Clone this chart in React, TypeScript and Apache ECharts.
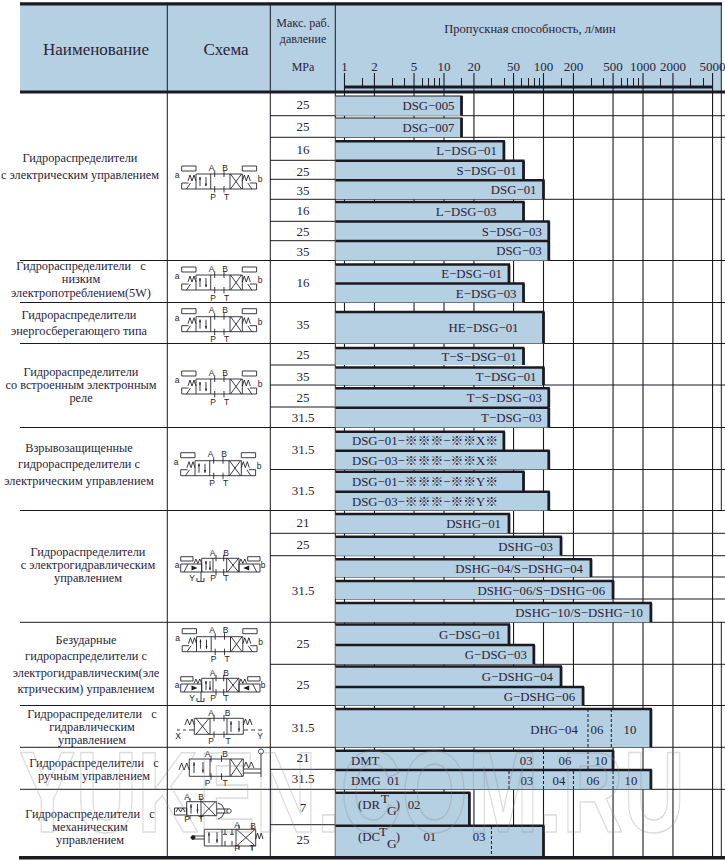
import React, { useEffect, useRef } from "react";
import * as echarts from "echarts";

// ---- data ----
const majorTicks = [1, 2, 5, 10, 20, 50, 100, 200, 500, 1000, 2000, 5000];
const minorTicks = [1.5, 3, 4, 6, 7, 8, 9, 15, 30, 40, 60, 70, 80, 90, 150, 300, 400, 600, 700, 800, 900, 1500, 3000, 4000];
const D = "\u2212";
const barLabels = [
  `DSG${D}005`, `DSG${D}007`, `L${D}DSG${D}01`, `S${D}DSG${D}01`, `DSG${D}01`, `L${D}DSG${D}03`, `S${D}DSG${D}03`, `DSG${D}03`,
  `E${D}DSG${D}01`, `E${D}DSG${D}03`, `HE${D}DSG${D}01`,
  `T${D}S${D}DSG${D}01`, `T${D}DSG${D}01`, `T${D}S${D}DSG${D}03`, `T${D}DSG${D}03`,
  `DSG${D}01${D}※※※${D}※※X※`, `DSG${D}03${D}※※※${D}※※X※`, `DSG${D}01${D}※※※${D}※※Y※`, `DSG${D}03${D}※※※${D}※※Y※`,
  `DSHG${D}01`, `DSHG${D}03`, `DSHG${D}04/S${D}DSHG${D}04`, `DSHG${D}06/S${D}DSHG${D}06`, `DSHG${D}10/S${D}DSHG${D}10`,
  `G${D}DSG${D}01`, `G${D}DSG${D}03`, `G${D}DSHG${D}04`, `G${D}DSHG${D}06`,
  `DHG${D}04`, "", "", "", "",
];
const barFlows = [15, 15, 40, 63, 100, 63, 113, 113, 45, 63, 100, 63, 100, 113, 113, 40, 113, 63, 113, 45, 150, 300, 500, 1200, 45, 80, 150, 250, 1200, 500, 1200, 18, 100];
const pressures = ["25", "25", "16", "25", "35", "16", "25", "35", "16", "35", "25", "35", "25", "31.5", "31.5", "31.5", "21", "25", "31.5", "25", "25", "31.5", "21", "31.5", "7", "25"];
const sectionNames = [
  ["Гидрораспределители", "с электрическим управлением"],
  ["Гидрораспределители   с", "низким", "электропотреблением(5W)"],
  ["Гидрораспределители", "энергосберегающего типа"],
  ["Гидрораспределители", "со встроенным электронным", "реле"],
  ["Взрывозащищенные", "гидрораспределители с", "электрическим управлением"],
  ["Гидрораспределители", "с электрогидравлическим", "управлением"],
  ["Безударные", "гидрораспределители с", "электрогидравлическим(эле", "ктрическим) управлением"],
  ["Гидрораспределители   с", "гидравлическим", "управлением"],
  ["Гидрораспределители   с", "ручным управлением"],
  ["Гидрораспределители   с", "механическим", "управлением"],
];

// ---- layout ----
const W = 725, H = 861;
const FONT = '"Liberation Serif", "Noto Sans CJK SC", serif';
const INK = "#1b1a22";
const TXT = "#2a2438";
const BLUE = "#b5cfe3";
const barTops = [96, 118, 141.3, 160.7, 180.3, 202, 221.5, 241, 264.5, 283.5, 312, 348, 367.5, 388.3, 407.7, 431.7, 450.7, 471.7, 491.7, 514, 536.7, 559.3, 581, 603, 624.5, 645, 666.5, 687, 709, 750.7, 770, 792.7, 825.7];
const barBottoms = [115.7, 137.3, 160, 179.3, 199.3, 221, 240.7, 260.5, 283, 302.5, 343.5, 365, 385, 407, 427.5, 450, 469.5, 491, 510.5, 533.3, 555.7, 577, 599, 622.3, 644, 664.3, 687, 705.5, 747.3, 769.3, 789.3, 825, 857];
const labelGaps = [7, 7, 7, 7, 7, 27, 7, 7, 7, 7, 25, 7, 7, 7, 7, -1, -1, -1, -1, 8, 8, 8, 8, 8, 8, 7, 8, 8, 73, 0, 0, 0, 0];
const leftLabelFlow = 1.19;
const pressureY = [104, 126, 149, 171, 190, 210, 231, 251, 282, 324, 354, 376, 397, 417, 449.5, 490.5, 522, 544, 590, 643, 684.6, 727, 757.7, 778, 807, 839];
const sectionY = [
  [158, 175], [266, 279, 293], [315, 331], [372, 385, 398], [448, 464, 481], [552, 565, 578], [640, 656, 673, 689], [714, 727, 740], [763, 776], [814, 827, 840],
];
const sectionX = [80, 81, 79, 81, 79, 88, 86, 92, 94, 90];
const sectionLines = [260.5, 302.5, 343.5, 427.5, 510.5, 622.3, 705.5, 747.3, 789.3];
const pressureLines = [115.7, 137.3, 160.3, 179.3, 199.3, 221.3, 240.7, 260.5, 302.5, 343.5, 365, 385, 407, 427.5, 469.5, 510.5, 533.3, 555.7, 622.3, 664.3, 705.5, 747.3, 769.3, 789.3, 824.7];
const fullLines = [115.7, 137.3, 199.3, 260.5, 302.5, 343.5, 385, 427.5, 469.5, 510.5, 533.3, 555.7, 577, 599, 622.3, 664.3, 705.5, 747.3, 789.3];
const dashes: [number, number, number][] = [
  [280, 709, 747], [480, 709, 747], [100, 751, 769], [280, 751, 769],
  [45, 771, 789], [100, 771, 789], [200, 771, 789], [500, 771, 789], [30, 826, 857],
];
// text, flow position, y, align
const notes: [string, number, number, string][] = [
  ["06", 345, 730, "center"], ["10", 740, 730, "center"],
  ["DMT", 1.16, 760.7, "left"], ["03", 67, 760.7, "center"], ["06", 164, 760.7, "center"], ["10", 378, 760.7, "center"],
  ["DMG  01", 1.16, 780.7, "left"], ["03", 68, 780.7, "center"], ["04", 143, 780.7, "center"], ["06", 314, 780.7, "center"], ["10", 757, 780.7, "center"],
  ["(DR", 1.37, 805, "left"], ["T", 2.55, 798, "center"], ["G", 3, 810, "center"], [")", 3.45, 805, "center"], ["02", 5, 805, "center"],
  ["(DC", 1.37, 837, "left"], ["T", 2.45, 831, "center"], ["G", 3, 843, "center"], [")", 3.45, 837, "center"], ["01", 7.2, 837, "center"], ["03", 22.5, 837, "center"],
];

// ---- schematic symbols ----
const ln = (...p: number[]) => {
  let s = "";
  for (let i = 0; i < p.length; i += 2) s += (i ? "L" : "M") + p[i] + " " + p[i + 1];
  return s;
};
const box = (x: number, y: number, x2: number, y2: number) => ln(x, y, x2, y, x2, y2, x, y2, x, y);
const tri = (x: number, y: number, dir: number) => ln(x - 1, y + 1.6 * dir, x + 1, y + 1.6 * dir, x, y - 1.6 * dir, x - 1, y + 1.6 * dir) + "Z";
const triH = (x: number, y: number, dir: number) => ln(x - 3 * dir, y - 2.5, x - 3 * dir, y + 2.5, x + 3 * dir, y, x - 3 * dir, y - 2.5) + "Z";
const spring = (x: number, y: number, x2: number, y2: number) => ln(x, y2, x + (x2 - x) * 0.25, y, x + (x2 - x) * 0.5, y2, x + (x2 - x) * 0.75, y, x2, y2);
const circle = (cx: number, cy: number, r: number) => {
  let s = "";
  for (let i = 0; i <= 16; i++) {
    const a = (i / 16) * Math.PI * 2;
    s += (i ? "L" : "M") + (cx + r * Math.cos(a)).toFixed(2) + " " + (cy + r * Math.sin(a)).toFixed(2);
  }
  return s;
};
const ports = (xa: number, xb: number, top: number, bot: number, c = 3) =>
  ln(xa, top - 3.5, xa, top + c) + ln(xb, top - 3.5, xb, top + c) + ln(xa, bot + 3.5, xa, bot - c) + ln(xb, bot + 3.5, xb, bot - c);

const solenoidA = () => {
  const m = (x: number) => 98.3 - x;
  const side = (f: (x: number) => number) =>
    box(f(11.7), 11, f(26), 16) + ln(f(26), 34, f(11.7), 34, f(11.7), 28, f(18.5), 28) + ln(f(16.5), 34, f(20.5), 28) + spring(f(18), 20, f(26), 26);
  return (
    side((x) => x) + side(m) + box(26, 19, 72.3, 34) + ln(40.7, 19, 40.7, 34) + ln(60, 19, 60, 34) +
    ln(30, 22, 30, 31) + ln(36, 22, 36, 31) + ln(60.5, 19, 71.5, 34) + ln(71.5, 19, 60.5, 34) + ports(44.7, 54, 19, 34)
  );
};
const solenoidB = () => {
  const m = (x: number) => 100.7 - x;
  const side = (f: (x: number) => number) =>
    box(f(10.7), 11.7, f(23), 16) + box(f(10.7), 19, f(31.7), 27) + ln(f(14), 27, f(18), 19) + spring(f(24), 14, f(31.7), 18.5);
  return (
    side((x) => x) + side(m) + box(31.7, 13.3, 69, 27) + ln(43, 13.3, 43, 27) + ln(56.7, 13.3, 56.7, 27) + ln(36, 16, 36, 25) + ln(40, 16, 40, 25) +
    ln(57.5, 13.3, 68.5, 27) + ln(68.5, 13.3, 57.5, 27) + ports(46, 53.7, 13.3, 27, 3) + ln(31, 27, 31, 36) + ln(27, 36.5, 34, 36.5) + ln(27, 33, 27, 36.5) + ln(34, 33, 34, 36.5)
  );
};
const hydraulicC = () =>
  box(24.3, 13.3, 73.3, 29.3) + ln(40, 13.3, 40, 29.3) + ln(57, 13.3, 57, 29.3) + ln(26, 13.3, 39, 29.3) + ln(39, 13.3, 26, 29.3) +
  ln(61, 16, 61, 27) + ln(69, 16, 69, 27) + ports(44, 54, 13.3, 29.3) + spring(15, 14, 24.3, 20) + spring(73.3, 14, 82, 20) +
  ln(7, 25, 10, 25) + ln(13, 25, 16, 25) + ln(19, 25, 24, 25) + ln(74, 25, 78, 25) + ln(81, 25, 85, 25) + ln(88, 25, 92, 25);
const manualD = () =>
  box(19.3, 54, 73.3, 71.3) + ln(40, 54, 40, 71.3) + ln(60, 54, 60, 71.3) + ln(24, 57, 24, 68) + ln(33, 57, 33, 68) + ln(60.5, 54, 72.5, 71.3) + ln(72.5, 54, 60.5, 71.3) +
  ports(41, 51.5, 54, 71.3) + spring(9, 58, 19.3, 65) + spring(73.3, 57, 84, 63) + ln(73.3, 64, 91, 64) + ln(73.3, 68, 91, 68) + ln(91, 49, 91, 72) + circle(91, 46.5, 2.5);
const camE = () =>
  box(16.7, 96.7, 46.7, 110.7) + ln(31, 96.7, 31, 110.7) + ln(21, 99, 21, 108.5) + ln(27.5, 99, 27.5, 108.5) + ln(32, 96.7, 45.7, 110.7) + ln(45.7, 96.7, 32, 110.7) +
  ports(20, 31, 96.7, 110.7, 0) + box(4.5, 103, 16.7, 110) + spring(6, 103, 15, 107) + ln(46.7, 104, 58, 104) + ln(46.7, 108, 58, 108) + circle(59, 106, 2.2) + ln(48, 98, 52, 100, 55, 106, 52, 112, 48, 114);
const cross = (x: number, y: number) => ln(x, y, x, y + 5) + ln(x - 2, y + 5, x + 2, y + 5);
const leverF = () =>
  box(34.3, 124.3, 85.7, 141) + ln(52, 124.3, 52, 141) + ln(66, 124.3, 66, 141) + ln(39, 127, 39, 138) + ln(47, 127, 47, 138) + ln(66.5, 124.3, 85.2, 141) + ln(85.2, 124.3, 66.5, 141) +
  cross(55, 124.3) + cross(62, 124.3) + ln(55, 141, 55, 136) + ln(62, 141, 62, 136) + ln(69, 120, 69, 124.3) + ln(82, 120, 82, 124.3) + ln(69, 141, 69, 145) + ln(82, 141, 82, 145) +
  ln(24, 131, 34.3, 131) + ln(24, 134, 34.3, 134) + circle(23, 132.5, 2) + spring(85.7, 128, 93, 134);

const ARROWS: Record<string, string> = {
  A: tri(30, 23, 1) + tri(36, 30, -1),
  B: tri(36, 17, 1) + tri(40, 24, -1) + triH(24.5, 23, 1) + triH(76.2, 23, -1),
  C: tri(61, 18, 1) + tri(69, 25, -1),
  D: tri(24, 59, 1) + tri(33, 66, -1),
  E: tri(21, 101, 1) + tri(27.5, 106, -1),
  F: tri(39, 129, 1) + tri(47, 136, -1) + circle(23, 132.5, 2),
};
const LINES: Record<string, string> = { A: solenoidA(), B: solenoidB(), C: hydraulicC(), D: manualD(), E: camE(), F: leverF() };
Object.keys(LINES).forEach((k) => {
  echarts.graphic.registerShape("valveLine" + k, echarts.graphic.extendPath(LINES[k], {}));
  echarts.graphic.registerShape("valveFill" + k, echarts.graphic.extendPath(ARROWS[k], {}));
});
const LETTERS: Record<string, [string, number, number][]> = {
  A: [["a", 7, 20], ["b", 90, 24], ["A", 41.5, 12.5], ["B", 55, 12.5], ["P", 43, 41.5], ["T", 56.5, 41.5]],
  B: [["a", 7, 19.5], ["b", 93, 19.5], ["A", 42.7, 8], ["B", 56, 8], ["P", 43, 33], ["T", 56, 33], ["Y", 22, 33]],
  C: [["A", 41, 8], ["B", 57.7, 8], ["P", 41, 35.5], ["T", 58, 35.5], ["X", 8, 31], ["Y", 90, 31]],
  D: [["A", 37.5, 49], ["B", 55, 49], ["P", 37.5, 78], ["T", 55, 78]],
  E: [["A", 17, 92], ["B", 31, 92], ["P", 17, 114], ["T", 31, 114]],
  F: [["A", 67, 120], ["B", 83, 121], ["P", 67, 143], ["T", 82, 143]],
};
const placements: [string, number, number][] = [
  ["A", 170, 155], ["A", 170, 256], ["A", 170, 297.7], ["A", 170, 360], ["A", 169, 441.7], ["B", 170, 545], ["A", 170.5, 617.7], ["B", 170, 665], ["C", 170, 705], ["D", 170, 705], ["E", 170, 705], ["F", 170, 705],
];

// ---- helpers for graphic ----
const T = (text: string, x: number, y: number, fontSize: number, extra: any = {}) => ({
  type: "text", x, y, silent: true, z: extra.z ?? 5, scaleX: extra.scaleX ?? 1, scaleY: extra.scaleY ?? 1,
  style: {
    text, fill: extra.fill ?? TXT, fontSize, fontFamily: extra.family ?? FONT, fontWeight: extra.weight ?? "normal",
    align: extra.align ?? "center", verticalAlign: "middle", textAlign: extra.align ?? "center", textVerticalAlign: "middle",
    ...(extra.stroke ? { stroke: extra.stroke, lineWidth: extra.lineWidth ?? 1 } : {}),
  },
});
const HL = (x1: number, x2: number, y: number, lw = 1, z = 1) => ({
  type: "line", silent: true, z, shape: { x1, y1: y, x2, y2: y }, style: { stroke: INK, lineWidth: lw },
});
const VL = (x: number, y1: number, y2: number, lw = 1, z = 3) => ({
  type: "line", silent: true, z, shape: { x1: x, y1, x2: x, y2 }, style: { stroke: INK, lineWidth: lw },
});

const buildGraphic = () => {
  const els: any[] = [];
  els.push({ type: "rect", silent: true, z: 0, shape: { x: 20, y: 4, width: 701, height: 87 }, style: { fill: BLUE } });
  sectionLines.forEach((y) => els.push(HL(20, 270, y)));
  pressureLines.forEach((y) => els.push(HL(270, 335, y)));
  fullLines.forEach((y) => els.push(HL(335, W, y)));
  els.push(VL(167.3, 4, 857), VL(270.3, 4, 857), VL(335.3, 4, 857));
  els.push(VL(721.3, 92, 511, 1, 1), VL(721.3, 622, 857, 1, 1), VL(721.3, 4, 92, 1, 1));
  els.push(HL(20, 722, 3.8, 3.2, 6), HL(20, W, 92, 3, 6), HL(19, W, 857.7, 3.6, 20));
  els.push(T("Наименование", 96, 49, 17), T("Схема", 226, 49, 17));
  els.push(T("Макс. раб.", 303, 23, 12), T("давление", 303, 39, 12), T("MPa", 303, 67, 12));
  els.push(T("Пропускная способность, л/мин", 530, 29, 12.5));
  pressures.forEach((p, i) => els.push(T(p, 303, pressureY[i], 13)));
  sectionNames.forEach((lines, i) => lines.forEach((s, j) => els.push(T(s, sectionX[i], sectionY[i][j], 12.3))));
  placements.forEach(([k, x, y]) => {
    els.push({ type: "valveLine" + k, x, y, silent: true, z: 5, style: { fill: "none", stroke: INK, lineWidth: 0.85 } });
    els.push({ type: "valveFill" + k, x, y, silent: true, z: 5, style: { fill: INK, stroke: "none" } });
    LETTERS[k].forEach(([s, dx, dy]) => els.push(T(s, x + dx, y + dy, 8.5, { family: '"Liberation Sans", sans-serif', fill: "#26242c" })));
  });
  els.push(T("YUKEN.COM.RU", 352, 792, 85, { family: '"Liberation Sans", sans-serif', weight: "bold", scaleY: 1.36, fill: "rgba(255,255,255,0)", stroke: "rgba(140,140,140,0.3)", lineWidth: 1.2, z: 30 }));
  return els;
};

const X0 = 0.803;
const X1 = 6668;
const textEl = (text: string, x: number, y: number, align: string, size = 12.8) => ({
  type: "text", x, y, silent: true,
  style: { text, fill: TXT, fontSize: size, fontFamily: FONT, align, verticalAlign: "middle", textAlign: align, textVerticalAlign: "middle" },
});

export default function App() {
  const ref = useRef<HTMLDivElement>(null);
  useEffect(() => {
    document.body.style.margin = "0";
    document.body.style.background = "#fff";
    const chart = echarts.init(ref.current!, undefined, { renderer: "svg" });
    const line = (a: number[], b: number[], lw: number, dash?: number[]) => ({
      type: "line", silent: true,
      shape: { x1: a[0], y1: a[1], x2: b[0], y2: b[1] },
      style: { stroke: INK, lineWidth: lw, lineDash: dash },
    });
    chart.setOption({
      animation: false,
      backgroundColor: "#ffffff",
      grid: { left: 335, right: 0, top: 87, bottom: 0, containLabel: false, outerBoundsMode: "none" },
      xAxis: {
        type: "log", logBase: 10, min: X0, max: X1, position: "top",
        axisLine: { show: false },
        axisTick: { show: true, customValues: minorTicks, length: 9, lineStyle: { color: INK, width: 1 } },
        axisLabel: { show: true, customValues: majorTicks, margin: 14, color: TXT, fontSize: 13, fontFamily: FONT, formatter: (v: number) => String(Math.round(v)), hideOverlap: false },
        splitLine: { show: false },
        minorTick: { show: false },
      },
      yAxis: { type: "value", inverse: true, min: 87, max: H, show: false },
      graphic: { elements: buildGraphic() },
      series: [
        {
          type: "custom", name: "grid", z: 2, silent: true, clip: false,
          data: majorTicks.map((v) => [v, 73]),
          encode: { x: 0, y: 1 },
          renderItem: (_: any, api: any) => line(api.coord([api.value(0), 73]), api.coord([api.value(0), 857]), 1.1),
        },
        {
          type: "custom", name: "scale", z: 3, silent: true, clip: false,
          data: [[1, 87]],
          encode: { x: 0, y: 1 },
          renderItem: (_: any, api: any) => line(api.coord([1, 87]), api.coord([5000, 87]), 2.8),
        },
        {
          type: "custom", name: "Пропускная способность", z: 4, silent: true, clip: false,
          data: barFlows.map((f, i) => [f, barTops[i], barBottoms[i], i]),
          encode: { x: 0, y: 1 },
          renderItem: (_: any, api: any) => {
            const i = api.value(3);
            const end = api.coord([api.value(0), api.value(1)]);
            const bot = api.coord([api.value(0), api.value(2)]);
            const start = api.coord([X0, api.value(1)]);
            const children: any[] = [
              { type: "rect", silent: true, shape: { x: start[0] + 0.5, y: end[1], width: end[0] - start[0] - 0.5, height: bot[1] - end[1] }, style: { fill: BLUE } },
              { type: "line", silent: true, shape: { x1: start[0] + 0.5, y1: end[1], x2: end[0] + 1, y2: end[1] }, style: { stroke: INK, lineWidth: i < 2 ? 1.2 : 2.4 } },
              { type: "line", silent: true, shape: { x1: end[0], y1: end[1], x2: end[0], y2: bot[1] }, style: { stroke: INK, lineWidth: 2.8 } },
            ];
            const s = barLabels[i];
            if (s) {
              const ymid = (end[1] + bot[1]) / 2 + 0.5;
              if (labelGaps[i] < 0) children.push(textEl(s, api.coord([leftLabelFlow, 100])[0], ymid, "left"));
              else children.push(textEl(s, end[0] - labelGaps[i], i === 28 ? 730 : ymid, "right"));
            }
            return { type: "group", children };
          },
        },
        {
          type: "custom", name: "dashes", z: 5, silent: true, clip: false,
          data: dashes,
          encode: { x: 0, y: 1 },
          renderItem: (_: any, api: any) => line(api.coord([api.value(0), api.value(1)]), api.coord([api.value(0), api.value(2)]), 1, [3, 2]),
        },
        {
          type: "custom", name: "notes", z: 6, silent: true, clip: false,
          data: notes.map((n) => [n[1], n[2]]),
          encode: { x: 0, y: 1 },
          renderItem: (params: any, api: any) => {
            const n = notes[params.dataIndex];
            const p = api.coord([n[1], n[2]]);
            return textEl(n[0], p[0], p[1], n[3], n[0] === "T" || n[0] === "G" ? 13.5 : 12.8);
          },
        },
      ],
    });
    return () => chart.dispose();
  }, []);
  return <div ref={ref} style={{ width: W, height: H }} />;
}
